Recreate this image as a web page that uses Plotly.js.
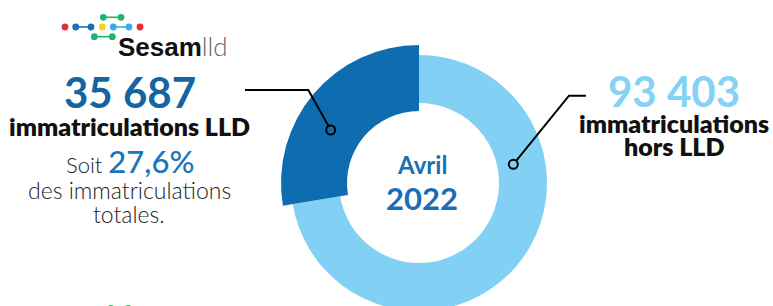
<!DOCTYPE html>
<html>
<head>
<meta charset="utf-8">
<script src="https://cdn.plot.ly/plotly-3.0.1.min.js"></script>
<style>
  html, body { margin: 0; padding: 0; overflow: hidden; background: #fff; }
  #chart { width: 773px; height: 340px; }
</style>
</head>
<body>
<div id="chart"></div>
<script>
// ---- data ----
const labels = ['immatriculations LLD', 'immatriculations hors LLD'];
const values = [35687, 93403];
const sliceColors = ['#0d6db0', '#83d0f5'];
const periodMonth = 'Avril';
const periodYear = '2022';
const lldLabel = 'immatriculations LLD';
const horsLabelLines = ['immatriculations', 'hors LLD'];
const shareLines = ['Soit', 'des immatriculations', 'totales.'];

// ---- helpers ----
const W = 773, H = 340;
const px = x => x / W;
const py = y => 1 - y / H;
const fmt = n => String(n).replace(/\B(?=(\d{3})+(?!\d))/g, ' ');
const total = values.reduce((a, b) => a + b, 0);
const share = (values[0] / total * 100).toFixed(1).replace('.', ',') + '%';
// first slice ends at 12 o'clock, going clockwise from the left side
const startRotation = -(values[0] / total) * 360;

const cx = 419, cy = 183;
function domainFor(R) {
  return { x: [px(cx - R), px(cx + R)], y: [py(cy + R), py(cy - R)] };
}

// dark slice: thicker ring (inner 72, outer 138); light slice: inner 80, outer 128
const traceDark = {
  type: 'pie', values: values, labels: labels, sort: false,
  direction: 'clockwise', rotation: startRotation,
  hole: 72 / 138, domain: domainFor(138),
  marker: { colors: [sliceColors[0], 'rgba(0,0,0,0)'], line: { width: 0 } },
  textinfo: 'none', hoverinfo: 'skip', showlegend: false
};
const traceLight = {
  type: 'pie', values: values, labels: labels, sort: false,
  direction: 'clockwise', rotation: startRotation,
  hole: 80 / 128, domain: domainFor(128),
  marker: { colors: ['rgba(0,0,0,0)', sliceColors[1]], line: { width: 0 } },
  textinfo: 'none', hoverinfo: 'skip', showlegend: false
};

const F = 'Lato, "Open Sans", sans-serif';
function ann(text, x, y, size, color, weight, extra) {
  return Object.assign({
    text: text, x: px(x), y: py(y), xref: 'paper', yref: 'paper',
    showarrow: false, xanchor: 'center', yanchor: 'middle', borderpad: 0,
    font: { family: F, size: size, color: color, weight: weight }
  }, extra || {});
}

const annotations = [
  // left block
  ann(fmt(values[0]), 130, 92, 42, '#1565a3', 700),
  ann(lldLabel, 129, 126, 25, '#111', 800),
  ann(shareLines[0] + ' <span style="font-size:31px;color:#1b74ba;font-weight:500">' + share + '</span>', 130, 161, 22, '#222', 300),
  ann(shareLines[1], 129, 190, 23, '#222', 300),
  ann(shareLines[2], 129, 214, 23, '#222', 300),
  // right block
  ann(fmt(values[1]), 674, 91, 42, '#86d1f6', 700),
  ann(horsLabelLines[0], 674, 123, 25, '#111', 800),
  ann(horsLabelLines[1], 674, 146, 25, '#111', 800),
  // center
  ann(periodMonth, 422, 164, 24, '#1a6fb3', 700),
  ann(periodYear, 422, 198, 31, '#1a6fb3', 700),
  // logo text
  { text: 'Sesam<span style="font-family:Lato;font-weight:300;color:#666">lld</span>',
    x: px(117), y: py(46), xref: 'paper', yref: 'paper', showarrow: false,
    xanchor: 'left', yanchor: 'middle', borderpad: 0,
    font: { family: '"Liberation Sans", Arial, sans-serif', size: 26, color: '#111', weight: 700 } }
];

// leader lines
function leader(points, circle, r) {
  const last = points[points.length - 1];
  const dx = circle[0] - last[0], dy = circle[1] - last[1];
  const len = Math.hypot(dx, dy);
  const end = [circle[0] - dx / len * r, circle[1] - dy / len * r];
  const pts = points.concat([end]);
  const path = pts.map((p, i) => (i ? 'L ' : 'M ') + px(p[0]) + ' ' + py(p[1])).join(' ');
  return [
    { type: 'path', xref: 'paper', yref: 'paper', path: path, line: { color: '#000', width: 2 } },
    { type: 'circle', xref: 'paper', yref: 'paper',
      x0: px(circle[0] - r), x1: px(circle[0] + r), y0: py(circle[1] + r), y1: py(circle[1] - r),
      line: { color: '#000', width: 2 }, fillcolor: 'rgba(0,0,0,0)' }
  ];
}

let shapes = [];
shapes = shapes.concat(leader([[245, 90], [308.3, 90]], [330.7, 130], 4.5));
shapes = shapes.concat(leader([[586, 95.7], [569, 95.7]], [513.3, 164.3], 4.5));

// logo molecule
function seg(a, b, color) {
  return { type: 'line', xref: 'paper', yref: 'paper', x0: px(a[0]), y0: py(a[1]), x1: px(b[0]), y1: py(b[1]),
    line: { color: color, width: 1.6 } };
}
function dot(c, color, r) {
  r = r || 3.4;
  return { type: 'circle', xref: 'paper', yref: 'paper',
    x0: px(c[0] - r), x1: px(c[0] + r), y0: py(c[1] + r), y1: py(c[1] - r),
    line: { width: 0 }, fillcolor: color };
}
const RED = '#e22b3b', BLUE = '#1d6fb5', YEL = '#f2d31b', LBL = '#38ade4', GRN = '#21b36b';
shapes.push(seg([75.7, 27], [91, 27], BLUE));
shapes.push(seg([113.3, 27], [129, 27], LBL));
shapes.push(seg([103.3, 17.3], [121, 17.3], GRN));
shapes.push(seg([94.3, 36.7], [112.3, 36.7], GRN));
shapes.push(seg([111, 308], [128.3, 308], GRN));
[[65, RED], [75.7, BLUE], [91, BLUE], [102.3, YEL], [113.3, LBL], [129, LBL], [140, RED]]
  .forEach(d => shapes.push(dot([d[0], 27], d[1])));
shapes.push(dot([103.3, 17.3], GRN));
shapes.push(dot([121, 17.3], GRN));
shapes.push(dot([94.3, 36.7], GRN));
shapes.push(dot([112.3, 36.7], GRN));
shapes.push(dot([111, 308.5], GRN));
shapes.push(dot([128.3, 308.5], GRN));

const layout = {
  width: W, height: H,
  margin: { l: 0, r: 0, t: 0, b: 0, pad: 0 },
  paper_bgcolor: '#fff', plot_bgcolor: '#fff',
  showlegend: false,
  annotations: annotations,
  shapes: shapes
};

Plotly.newPlot('chart', [traceLight, traceDark], layout, { displayModeBar: false, staticPlot: true });
</script>
</body>
</html>
